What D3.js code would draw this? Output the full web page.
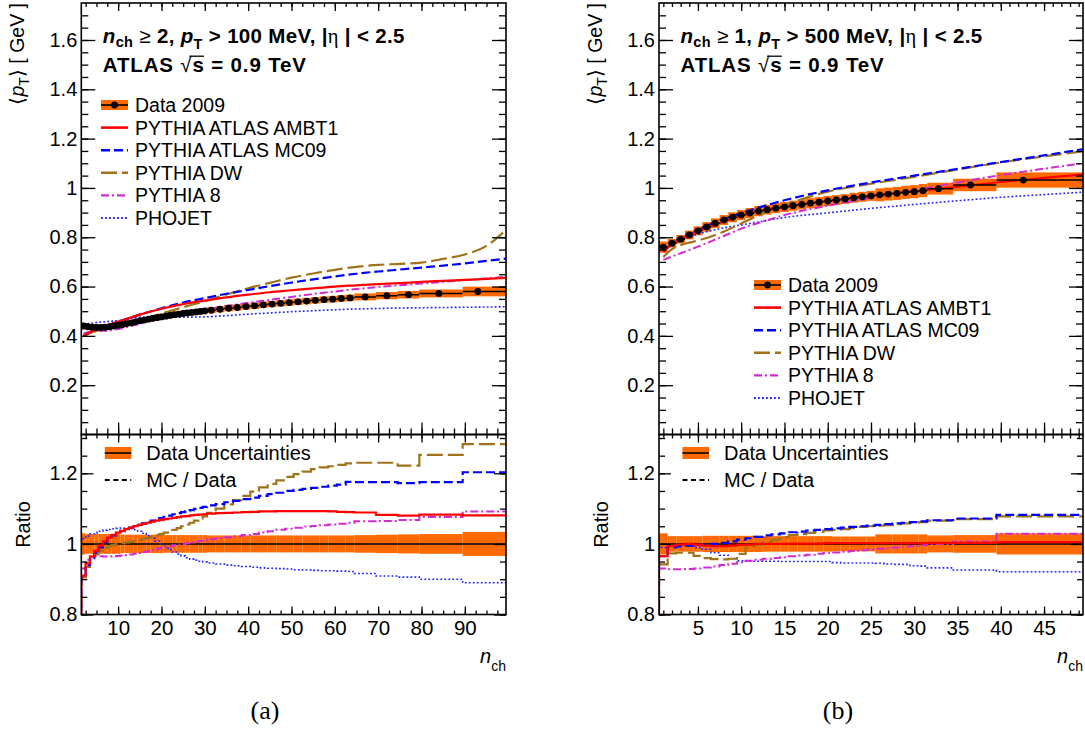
<!DOCTYPE html>
<html><head><meta charset="utf-8">
<script src="https://cdn.jsdelivr.net/npm/d3@7"></script>
<style>
body{margin:0;background:#fff;}
svg{display:block;font-family:"Liberation Sans",Arial,Helvetica,sans-serif;}
</style></head><body>
<svg id="c" width="1085" height="731"></svg>
<script>
// ================= DATA : panel (a) =================
const aBins  = [2,3,4,5,6,7,8,9,10,11,12,13,14,15,16,17,18,19,20,21,22,23,24,25,26,27,28,29,30,
  31.5,33.5,35.5,37.5,39.5,41.5,43.5,45.5,47.5,49.5,51.5,53.5,55.5,57.5,59.5,61.5,63.5,
  67,72,77,84,93];
const aEdges = [1.5,2.5,3.5,4.5,5.5,6.5,7.5,8.5,9.5,10.5,11.5,12.5,13.5,14.5,15.5,16.5,17.5,18.5,19.5,20.5,
  21.5,22.5,23.5,24.5,25.5,26.5,27.5,28.5,29.5,30.5,
  32.5,34.5,36.5,38.5,40.5,42.5,44.5,46.5,48.5,50.5,52.5,54.5,56.5,58.5,60.5,62.5,64.5,
  69.5,74.5,79.5,89.5,99.5];
const aData  = [0.440,0.437,0.435,0.434,0.434,0.435,0.437,0.440,0.443,0.446,0.450,0.453,0.457,0.461,0.464,
  0.468,0.471,0.474,0.477,0.480,0.483,0.486,0.488,0.491,0.493,0.495,0.497,0.499,0.501,
  0.504,0.508,0.512,0.515,0.519,0.522,0.526,0.529,0.532,0.535,0.538,0.541,0.544,0.547,0.549,0.552,0.554,
  0.558,0.563,0.567,0.572,0.580];
const aUnc   = [0.030,0.028,0.028,0.028,0.028,0.028,0.028,0.028,0.028,0.026,0.026,0.026,0.026,0.026,0.026,
  0.026,0.026,0.026,0.026,0.025,0.025,0.025,0.025,0.025,0.025,0.025,0.025,0.025,0.025,
  0.024,0.024,0.024,0.024,0.024,0.024,0.024,0.024,0.024,0.024,0.024,0.024,0.024,0.024,0.024,0.024,0.024,
  0.025,0.026,0.027,0.028,0.034];
// MC curves (top panel), values at aCurveN
const aCurveN = [2,4,6,8,10,12,15,20,25,30,35,40,45,50,55,60,65,70,75,80,85,90,95,99.5];
const aAMBT1  = [0.400,0.420,0.433,0.446,0.458,0.469,0.486,0.510,0.529,0.543,0.556,0.567,0.577,0.585,0.593,0.600,0.605,0.610,0.614,0.619,0.623,0.627,0.631,0.635];
const aMC09   = [0.400,0.418,0.430,0.444,0.457,0.469,0.486,0.512,0.535,0.553,0.571,0.586,0.602,0.616,0.629,0.641,0.652,0.661,0.669,0.677,0.685,0.694,0.704,0.713];
const aDW     = [0.400,0.415,0.425,0.434,0.443,0.451,0.466,0.490,0.516,0.541,0.568,0.593,0.615,0.636,0.653,0.668,0.680,0.688,0.692,0.697,0.712,0.730,0.765,0.830];
const aP8     = [0.410,0.418,0.420,0.422,0.428,0.436,0.449,0.471,0.491,0.506,0.521,0.534,0.546,0.558,0.570,0.580,0.590,0.598,0.605,0.612,0.619,0.626,0.633,0.640];
const aPHOJET = [0.447,0.452,0.456,0.459,0.462,0.467,0.476,0.478,0.476,0.477,0.482,0.488,0.493,0.498,0.502,0.506,0.509,0.511,0.513,0.514,0.515,0.516,0.517,0.518];
// MC / Data ratios per data bin
const aRatAMBT1 = [0.910,0.945,0.965,0.980,0.995,1.008,1.018,1.026,1.032,1.037,1.042,1.046,1.050,1.054,1.057,1.060,1.063,1.066,1.068,1.070,
  1.072,1.074,1.076,1.078,1.079,1.081,1.082,1.083,1.084,
  1.086,1.087,1.088,1.089,1.090,1.091,1.092,1.092,1.093,1.093,1.093,1.093,1.093,1.093,1.092,1.091,1.090,
  1.089,1.082,1.080,1.083,1.081];
const aRatMC09 = [0.905,0.940,0.960,0.975,0.990,1.005,1.016,1.024,1.030,1.036,1.041,1.046,1.050,1.054,1.058,1.062,1.066,1.070,1.073,1.077,
  1.080,1.084,1.087,1.090,1.093,1.096,1.099,1.102,1.105,
  1.109,1.113,1.118,1.122,1.127,1.131,1.136,1.141,1.145,1.150,1.153,1.156,1.159,1.162,1.165,1.168,1.176,
  1.175,1.175,1.172,1.175,1.203];
const aRatDW = [0.905,0.935,0.955,0.970,0.980,0.988,0.993,0.997,1.000,1.002,1.004,1.006,1.008,1.011,1.014,1.017,1.020,1.024,1.028,1.032,
  1.036,1.040,1.045,1.050,1.055,1.060,1.066,1.072,1.078,
  1.088,1.100,1.112,1.124,1.136,1.148,1.160,1.170,1.180,1.190,1.198,1.205,1.212,1.217,1.220,1.224,1.228,
  1.230,1.230,1.222,1.252,1.283];
const aRatP8 = [0.930,0.955,0.962,0.965,0.965,0.964,0.964,0.965,0.966,0.967,0.968,0.970,0.972,0.974,0.977,0.979,0.982,0.985,0.988,0.990,
  0.993,0.996,0.998,1.000,1.002,1.004,1.006,1.008,1.010,
  1.013,1.016,1.019,1.022,1.025,1.028,1.032,1.036,1.040,1.043,1.046,1.049,1.051,1.053,1.055,1.057,1.060,
  1.064,1.065,1.068,1.076,1.092];
const aRatPHOJET = [1.015,1.022,1.028,1.032,1.036,1.039,1.041,1.043,1.044,1.045,1.045,1.043,1.040,1.036,1.030,1.023,1.016,1.008,1.000,0.992,
  0.984,0.977,0.971,0.966,0.961,0.957,0.954,0.951,0.949,
  0.946,0.943,0.940,0.938,0.936,0.934,0.932,0.931,0.930,0.929,0.927,0.926,0.925,0.924,0.924,0.923,0.922,
  0.916,0.909,0.906,0.900,0.890];
const aXTicks = [10,20,30,40,50,60,70,80,90];

// ================= DATA : panel (b) =================
const bBins  = [1,2,3,4,5,6,7,8,9,10,11,12,13,14,15,16,17,18,19,20,21,22,23,24,25,26,27,28,29,30,31,32.8,36.5,42.6];
const bEdges = [0.5,1.5,2.5,3.5,4.5,5.5,6.5,7.5,8.5,9.5,10.5,11.5,12.5,13.5,14.5,15.5,16.5,17.5,18.5,19.5,20.5,
  21.5,22.5,23.5,24.5,25.5,26.5,27.5,28.5,29.5,30.5,31.5,34.5,39.5,49.5];
const bData  = [0.760,0.776,0.792,0.809,0.826,0.842,0.857,0.870,0.881,0.890,0.898,0.906,0.912,0.918,0.923,
  0.928,0.933,0.938,0.942,0.947,0.951,0.955,0.960,0.964,0.968,0.972,0.975,0.978,0.982,0.985,0.989,
  0.997,1.012,1.032];
const bUnc   = [0.030,0.022,0.022,0.022,0.022,0.023,0.023,0.023,0.023,0.023,0.023,0.023,0.022,0.022,0.022,
  0.022,0.022,0.022,0.022,0.022,0.021,0.021,0.021,0.021,0.021,0.027,0.027,0.027,0.027,0.027,0.027,
  0.024,0.025,0.030];
const bCurveN = [1,2,3,4,5,6,8,10,12,15,20,25,30,35,40,45,49.5];
const bAMBT1  = [0.740,0.772,0.790,0.808,0.824,0.838,0.864,0.887,0.905,0.923,0.947,0.968,0.986,1.005,1.024,1.041,1.055];
const bMC09   = [0.745,0.770,0.790,0.810,0.828,0.845,0.873,0.898,0.920,0.950,0.990,1.022,1.050,1.077,1.105,1.132,1.157];
const bDW     = [0.720,0.752,0.768,0.778,0.787,0.797,0.823,0.856,0.889,0.930,0.985,1.017,1.045,1.075,1.103,1.128,1.148];
const bP8     = [0.708,0.722,0.735,0.748,0.762,0.776,0.805,0.835,0.858,0.890,0.928,0.960,0.990,1.022,1.052,1.078,1.100];
const bPHOJET = [0.740,0.775,0.790,0.800,0.812,0.822,0.838,0.850,0.862,0.880,0.899,0.917,0.933,0.948,0.962,0.973,0.983];
const bRatAMBT1 = [0.965,0.995,0.998,1.000,0.998,0.995,0.994,0.994,0.995,0.997,0.998,1.000,1.000,1.000,1.000,
  1.001,1.001,1.001,1.001,1.002,1.002,1.002,1.002,1.002,1.002,1.002,1.002,1.002,1.002,1.002,1.002,1.003,1.003,1.005];
const bRatMC09 = [0.965,0.990,0.993,0.995,0.997,0.998,1.000,1.003,1.007,1.012,1.016,1.020,1.024,1.027,1.030,
  1.033,1.035,1.038,1.040,1.042,1.044,1.046,1.048,1.050,1.052,1.054,1.056,1.058,1.060,1.062,1.064,1.067,1.072,1.082];
const bRatDW = [0.942,0.973,0.975,0.975,0.966,0.960,0.957,0.956,0.958,0.972,0.990,0.998,1.006,1.012,1.019,
  1.025,1.028,1.031,1.034,1.038,1.040,1.042,1.045,1.048,1.050,1.052,1.053,1.056,1.058,1.060,1.062,1.066,1.070,1.078];
const bRatP8 = [0.930,0.928,0.928,0.929,0.930,0.933,0.936,0.940,0.944,0.948,0.952,0.955,0.958,0.960,0.962,
  0.965,0.967,0.969,0.972,0.974,0.976,0.978,0.980,0.982,0.984,0.986,0.988,0.990,0.992,0.994,0.996,1.000,1.007,1.029];
const bRatPHOJET = [0.990,0.998,0.998,0.996,0.990,0.985,0.975,0.968,0.958,0.952,0.951,0.951,0.951,0.951,0.950,
  0.950,0.950,0.950,0.950,0.950,0.947,0.946,0.946,0.946,0.946,0.945,0.943,0.942,0.942,0.938,0.937,0.932,0.926,0.921];
const bXTicks = [5,10,15,20,25,30,35,40,45];

// ================= shared labels =================
const yTicks = [0.2,0.4,0.6,0.8,1.0,1.2,1.4,1.6];
const ratioTicks = [0.8,1.0,1.2];
const mcNames = ["PYTHIA ATLAS AMBT1","PYTHIA ATLAS MC09","PYTHIA DW","PYTHIA 8","PHOJET"];
const dataName = "Data 2009";

// ================= styles =================
const ORANGE = "#ff6a00";
const mcStyles = [
  {color:"#ff0000", dash:null,        w:2.2},
  {color:"#0000ff", dash:"9,4",       w:2.2},
  {color:"#a0731a", dash:"16,5",      w:2.2},
  {color:"#d22bd2", dash:"8,3,2,3",   w:2.0},
  {color:"#2222ff", dash:"1.8,2.2",   w:1.6}
];

const svg = d3.select("#c");
const FONT = '"Liberation Sans",Arial,Helvetica,sans-serif';

const panels = [
  {x0:81.3, x1:506, xDom:[1.5,99.5], xMajor:aXTicks, xMinor:d3.range(2.5,99.5,2.5),
   bins:aBins, edges:aEdges, data:aData, unc:aUnc, curveN:aCurveN,
   curves:[aAMBT1,aMC09,aDW,aP8,aPHOJET], ratios:[aRatAMBT1,aRatMC09,aRatDW,aRatP8,aRatPHOJET],
   nmin:"2", ptmin:"100", legX:101, legY:105, caption:"(a)", capX:265},
  {x0:659, x1:1083, xDom:[0.5,49.5], xMajor:bXTicks, xMinor:d3.range(1,50,1),
   bins:bBins, edges:bEdges, data:bData, unc:bUnc, curveN:bCurveN,
   curves:[bAMBT1,bMC09,bDW,bP8,bPHOJET], ratios:[bRatAMBT1,bRatMC09,bRatDW,bRatP8,bRatPHOJET],
   nmin:"1", ptmin:"500", legX:754, legY:285, caption:"(b)", capX:838}
];

const TOP0 = 3, TOP1 = 434.5, R0 = 434.5, R1 = 614.5;
const fmt = v => String(+v.toFixed(2));

function axis(g, scale, orient, pos, vals, len, labels, fs, pad){
  const gen = {left:d3.axisLeft,right:d3.axisRight,top:d3.axisTop,bottom:d3.axisBottom}[orient];
  const ax = gen(scale).tickValues(vals).tickSizeInner(-len).tickSizeOuter(0).tickPadding(pad||4)
    .tickFormat(labels ? fmt : () => "");
  const gg = g.append("g")
    .attr("transform", (orient==="left"||orient==="right") ? `translate(${pos},0)` : `translate(0,${pos})`)
    .call(ax);
  gg.attr("font-family", FONT).attr("font-size", fs||20);
  gg.select(".domain").remove();
  gg.selectAll("line").attr("stroke","#000").attr("stroke-width",1.3);
  gg.selectAll("text").attr("fill","#000");
  return gg;
}
// spread a text line to the width it has in the reference
function fitWidth(t, target){
  const node = t.node();
  const len = node.getComputedTextLength();
  const n = node.textContent.length;
  if (n > 1 && len > 0) t.attr("letter-spacing", ((target - len) / n).toFixed(3));
}

panels.forEach((p, pi) => {
  const g = svg.append("g");
  const x = d3.scaleLinear().domain(p.xDom).range([p.x0, p.x1]);
  const y = d3.scaleLinear().domain([0, 1.75]).range([TOP1, TOP0]);
  const yr = d3.scaleLinear().domain([0.8, 1.31]).range([R1, R0]);

  const defs = svg.append("defs");
  defs.append("clipPath").attr("id","ct"+pi).append("rect")
    .attr("x",p.x0).attr("y",TOP0).attr("width",p.x1-p.x0).attr("height",TOP1-TOP0);
  defs.append("clipPath").attr("id","cr"+pi).append("rect")
    .attr("x",p.x0).attr("y",R0).attr("width",p.x1-p.x0).attr("height",R1-R0);

  // ---------- top panel ----------
  const gt = g.append("g").attr("clip-path",`url(#ct${pi})`);
  gt.selectAll("rect.band").data(p.data).join("rect")
    .attr("x",(d,i)=>x(p.edges[i])).attr("width",(d,i)=>x(p.edges[i+1])-x(p.edges[i]))
    .attr("y",(d,i)=>y(d*(1+p.unc[i]))).attr("height",(d,i)=>y(d*(1-p.unc[i]))-y(d*(1+p.unc[i])))
    .attr("fill",ORANGE);
  const line = d3.line().x(d=>x(d[0])).y(d=>y(d[1])).curve(d3.curveMonotoneX);
  for (let k = mcStyles.length-1; k >= 0; k--) {
    const s = mcStyles[k];
    gt.append("path").datum(p.curveN.map((n,i)=>[n,p.curves[k][i]]))
      .attr("d",line).attr("fill","none").attr("stroke",s.color).attr("stroke-width",s.w)
      .attr("stroke-dasharray",s.dash);
  }
  gt.selectAll("line.xerr").data(p.data).join("line")
    .attr("x1",(d,i)=>x(p.edges[i])).attr("x2",(d,i)=>x(p.edges[i+1]))
    .attr("y1",d=>y(d)).attr("y2",d=>y(d)).attr("stroke","#000").attr("stroke-width",1.5);
  gt.selectAll("circle").data(p.data).join("circle")
    .attr("cx",(d,i)=>x(p.bins[i])).attr("cy",d=>y(d)).attr("r",3.4).attr("fill","#000");

  const yMinor = d3.range(0.05,1.75,0.05).map(v=>+v.toFixed(2));
  axis(g, y, "left", p.x0, yMinor, 7, false);
  axis(g, y, "left", p.x0, yTicks, 14, true, 20, 4);
  axis(g, y, "right", p.x1, yMinor, 7, false);
  axis(g, y, "right", p.x1, yTicks, 14, false);
  axis(g, x, "bottom", TOP1, p.xMinor, 6, false);
  axis(g, x, "bottom", TOP1, p.xMajor, 12, false);
  axis(g, x, "top", TOP0, p.xMinor, 4, false);
  axis(g, x, "top", TOP0, p.xMajor, 8, false);
  g.append("rect").attr("x",p.x0).attr("y",TOP0).attr("width",p.x1-p.x0).attr("height",TOP1-TOP0)
    .attr("fill","none").attr("stroke","#000").attr("stroke-width",1.6);

  // y title
  const yt = g.append("text").attr("transform",`translate(${p.x0-57},${TOP0}) rotate(-90)`)
    .attr("text-anchor","end").attr("font-size",19.5).attr("fill","#000");
  yt.append("tspan").text("\u27E8");
  yt.append("tspan").attr("font-style","italic").text("p");
  yt.append("tspan").attr("font-size",14).attr("dy",5).text("T");
  yt.append("tspan").attr("dy",-5).text("\u27E9 [ GeV ]");

  // header
  const hx = p.x0 + 21.5;
  const h1 = g.append("text").attr("x",hx).attr("y",43).attr("font-size",20.5).attr("font-weight","bold").attr("fill","#000");
  h1.append("tspan").attr("font-style","italic").text("n");
  h1.append("tspan").attr("font-size",14.5).attr("dy",4).text("ch");
  h1.append("tspan").attr("dy",-4).attr("font-weight","normal").text(" \u2265 ");
  h1.append("tspan").text(p.nmin + ", ");
  h1.append("tspan").attr("font-style","italic").text("p");
  h1.append("tspan").attr("font-size",14.5).attr("dy",6).text("T");
  h1.append("tspan").attr("dy",-6).text(" > " + p.ptmin + " MeV, |");
  h1.append("tspan").attr("font-weight","normal").attr("font-family",'"Liberation Serif","DejaVu Serif",serif').text("\u03B7");
  h1.append("tspan").text(" | < 2.5");
  fitWidth(h1, 302);
  const h2 = g.append("text").attr("x",hx).attr("y",72).attr("font-size",20.5).attr("font-weight","bold").attr("fill","#000");
  h2.append("tspan").text("ATLAS ");
  h2.append("tspan").attr("font-weight","normal").text("\u221A");
  h2.append("tspan").text("s");
  h2.append("tspan").text(" = 0.9 TeV");
  fitWidth(h2, 204);
  // radical bar over "s"
  {
    const nd = h2.node();
    const e1 = nd.getExtentOfChar(6), e2 = nd.getExtentOfChar(7);
    h2.node().parentNode && g.append("line")
      .attr("x1", e1.x + e1.width*0.75).attr("x2", e2.x + e2.width*0.95)
      .attr("y1", 72 - 15.8).attr("y2", 72 - 15.8)
      .attr("stroke","#000").attr("stroke-width",1.3);
  }

  // legend (top)
  const lg = g.append("g").attr("font-size",19.5).attr("fill","#000");
  const LS = 22.6, sx0 = p.legX, sx1 = p.legX + 27, tx = p.legX + 34;
  lg.append("rect").attr("x",sx0).attr("y",p.legY-5).attr("width",27).attr("height",10).attr("fill",ORANGE);
  lg.append("line").attr("x1",sx0).attr("x2",sx1).attr("y1",p.legY).attr("y2",p.legY).attr("stroke","#000").attr("stroke-width",1.6);
  lg.append("circle").attr("cx",(sx0+sx1)/2).attr("cy",p.legY).attr("r",3.4).attr("fill","#000");
  lg.append("text").attr("x",tx).attr("y",p.legY).attr("dy","0.36em").text(dataName);
  mcNames.forEach((nm,k) => {
    const yy = p.legY + LS*(k+1), s = mcStyles[k];
    lg.append("line").attr("x1",sx0).attr("x2",sx1).attr("y1",yy).attr("y2",yy)
      .attr("stroke",s.color).attr("stroke-width",s.w+0.4).attr("stroke-dasharray",s.dash);
    lg.append("text").attr("x",tx).attr("y",yy).attr("dy","0.36em").text(nm);
  });

  // ---------- ratio panel ----------
  const gr = g.append("g").attr("clip-path",`url(#cr${pi})`);
  gr.selectAll("rect.rband").data(p.unc).join("rect")
    .attr("x",(d,i)=>x(p.edges[i])).attr("width",(d,i)=>x(p.edges[i+1])-x(p.edges[i]))
    .attr("y",d=>yr(1+d)).attr("height",d=>yr(1-d)-yr(1+d)).attr("fill",ORANGE);
  gr.append("line").attr("x1",p.x0).attr("x2",p.x1).attr("y1",yr(1)).attr("y2",yr(1))
    .attr("stroke","#000").attr("stroke-width",1.5);
  const sline = d3.line().x(d=>x(d[0])).y(d=>yr(d[1]));
  for (let k = mcStyles.length-1; k >= 0; k--) {
    const s = mcStyles[k], r = p.ratios[k];
    const pts = [[p.edges[0], 0.7]];
    r.forEach((v,i)=>{ pts.push([p.edges[i],v],[p.edges[i+1],v]); });
    gr.append("path").datum(pts).attr("d",sline).attr("fill","none")
      .attr("stroke",s.color).attr("stroke-width",s.w).attr("stroke-dasharray",s.dash);
  }
  const rMinor = d3.range(0.8,1.31,0.05).map(v=>+v.toFixed(2));
  axis(g, yr, "left", p.x0, rMinor, 6, false);
  axis(g, yr, "left", p.x0, ratioTicks, 12, true, 20, 4);
  axis(g, yr, "right", p.x1, rMinor, 6, false);
  axis(g, yr, "right", p.x1, ratioTicks, 12, false);
  axis(g, x, "bottom", R1, p.xMinor, 4, false);
  axis(g, x, "bottom", R1, p.xMajor, 8, true, 20.5, 6);
  axis(g, x, "top", R0, p.xMinor, 4, false);
  axis(g, x, "top", R0, p.xMajor, 8, false);
  g.append("rect").attr("x",p.x0).attr("y",R0).attr("width",p.x1-p.x0).attr("height",R1-R0)
    .attr("fill","none").attr("stroke","#000").attr("stroke-width",1.6);

  g.append("text").attr("transform",`translate(${p.x0-51},${(R0+R1)/2}) rotate(-90)`)
    .attr("text-anchor","middle").attr("font-size",20).attr("fill","#000").text("Ratio");

  // ratio legend
  const rl = g.append("g").attr("font-size",20).attr("fill","#000");
  const rx0 = p.x0 + 23.5, rx1 = rx0 + 26.5, rtx = p.x0 + 65;
  rl.append("rect").attr("x",rx0).attr("y",447).attr("width",26.5).attr("height",12).attr("fill",ORANGE);
  rl.append("line").attr("x1",rx0).attr("x2",rx1).attr("y1",453).attr("y2",453).attr("stroke","#000").attr("stroke-width",1.6);
  rl.append("text").attr("x",rtx).attr("y",453).attr("dy","0.36em").text("Data Uncertainties");
  rl.append("line").attr("x1",rx0).attr("x2",rx1).attr("y1",480).attr("y2",480).attr("stroke","#000")
    .attr("stroke-width",2.2).attr("stroke-dasharray","5,3.5");
  rl.append("text").attr("x",rtx).attr("y",480).attr("dy","0.36em").text("MC / Data");

  // x title
  const xt = g.append("text").attr("x",p.x1).attr("y",663).attr("text-anchor","end").attr("font-size",20).attr("fill","#000");
  xt.append("tspan").attr("font-style","italic").text("n");
  xt.append("tspan").attr("font-size",14).attr("dy",8).text("ch");

  // caption
  svg.append("text").attr("x",p.capX).attr("y",719).attr("text-anchor","middle")
    .attr("font-family",'"Liberation Serif","Times New Roman",serif').attr("font-size",26).attr("fill","#000")
    .text(p.caption);
});
</script>
</body></html>
